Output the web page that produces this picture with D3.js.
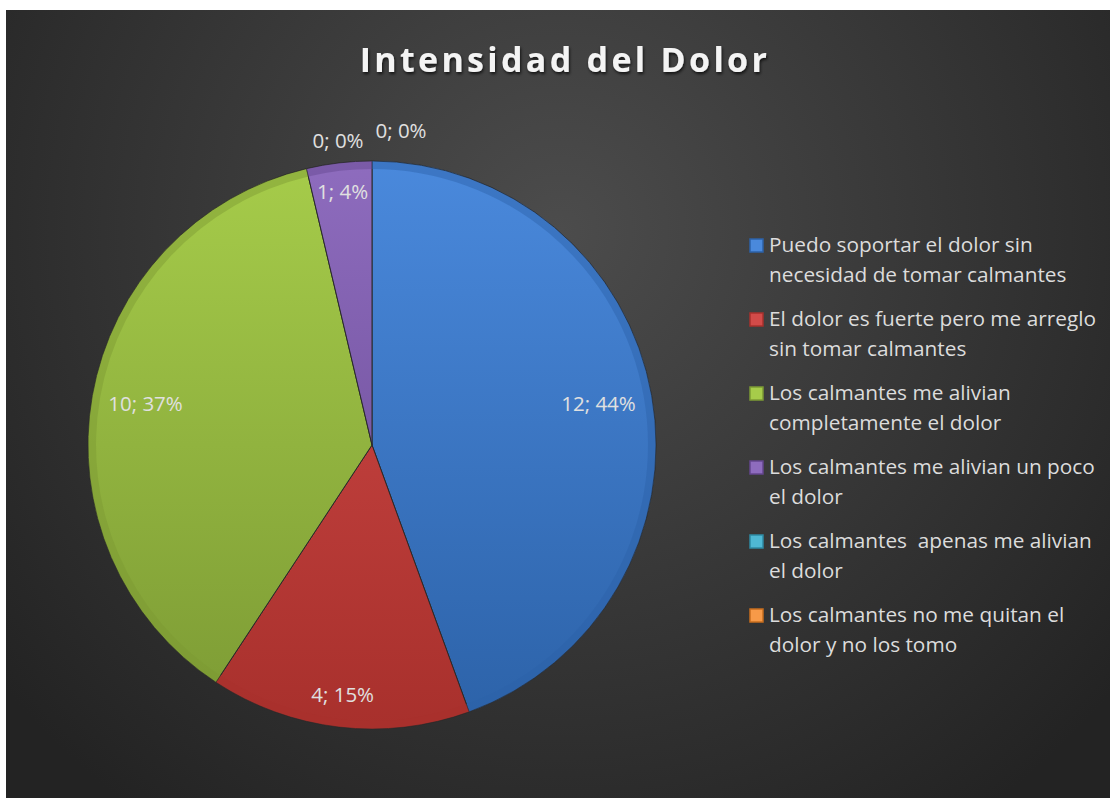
<!DOCTYPE html>
<html>
<head>
<meta charset="utf-8">
<script src="https://cdn.jsdelivr.net/npm/d3@7"></script>
<style>
  body { margin: 0; background: #fff; }
  svg { display: block; }
</style>
</head>
<body>
<div id="chart"></div>
<script>
const width = 1110;
const height = 798;

// data
const categories = [
    "Puedo soportar el dolor sin necesidad de tomar calmantes",
    "El dolor es fuerte pero me arreglo sin tomar calmantes",
    "Los calmantes me alivian completamente el dolor",
    "Los calmantes me alivian un poco el dolor",
    "Los calmantes  apenas me alivian el dolor",
    "Los calmantes no me quitan el dolor y no los tomo"
];
const values = [12, 4, 10, 1, 0, 0];
const legendLines = [
    ["Puedo soportar el dolor sin", "necesidad de tomar calmantes"],
    ["El dolor es fuerte pero me arreglo", "sin tomar calmantes"],
    ["Los calmantes me alivian", "completamente el dolor"],
    ["Los calmantes me alivian un poco", "el dolor"],
    ["Los calmantes  apenas me alivian", "el dolor"],
    ["Los calmantes no me quitan el", "dolor y no los tomo"]
];
const colors = [
    ["#4a89dc", "#2c62a8"],
    ["#d24b49", "#a8302c"],
    ["#a6cc4a", "#7c9a34"],
    ["#8e6cbe", "#64468e"],
    ["#4fb8d4", "#2e8aa4"],
    ["#f79a48", "#c86e1e"]
];

const svg = d3.select("#chart")
    .append("svg")
    .attr("width", width)
    .attr("height", height)
    .style("font-family", "'Open Sans', sans-serif");

const defs = svg.append("defs");

// fond
const bg = defs.append("radialGradient")
    .attr("id", "bg")
    .attr("gradientUnits", "userSpaceOnUse")
    .attr("cx", 560).attr("cy", 230).attr("r", 720);
bg.append("stop").attr("offset", "0%").attr("stop-color", "#4c4c4c");
bg.append("stop").attr("offset", "100%").attr("stop-color", "#232323");

svg.append("rect")
    .attr("x", 6).attr("y", 10)
    .attr("width", width - 6).attr("height", height - 10)
    .attr("fill", "url(#bg)");

// titre
const shadow = defs.append("filter").attr("id", "shadow");
shadow.append("feDropShadow")
    .attr("dx", 1).attr("dy", 2).attr("stdDeviation", 1.5)
    .attr("flood-color", "#000").attr("flood-opacity", 0.7);

svg.append("text")
    .attr("x", 565).attr("y", 72)
    .attr("text-anchor", "middle")
    .attr("fill", "#f4f4f4")
    .style("font-size", "34px")
    .style("font-weight", "bold")
    .style("letter-spacing", "3.3px")
    .attr("filter", "url(#shadow)")
    .text("Intensidad del Dolor");

// camembert
const cx = 372, cy = 445, radius = 284;

const pie = d3.pie().sort(null).value(d => d);
const arcs = pie(values);
const arc = d3.arc().innerRadius(0).outerRadius(radius);
const bevel = d3.arc().innerRadius(radius - 8).outerRadius(radius);

colors.forEach((c, i) => {
    const g = defs.append("linearGradient")
        .attr("id", "slice" + i)
        .attr("gradientUnits", "userSpaceOnUse")
        .attr("x1", 0).attr("y1", -radius)
        .attr("x2", 0).attr("y2", radius);
    g.append("stop").attr("offset", "0%").attr("stop-color", c[0]);
    g.append("stop").attr("offset", "100%").attr("stop-color", c[1]);
});

const g = svg.append("g").attr("transform", `translate(${cx},${cy})`);

g.selectAll("path.slice")
    .data(arcs.filter(d => d.value > 0))
    .enter()
    .append("path")
    .attr("class", "slice")
    .attr("d", arc)
    .attr("fill", d => `url(#slice${d.index})`)
    .attr("stroke", "#2a2a2a")
    .attr("stroke-width", 1);

// petit biseau
g.selectAll("path.bevel")
    .data(arcs.filter(d => d.value > 0))
    .enter()
    .append("path")
    .attr("class", "bevel")
    .attr("d", bevel)
    .attr("fill", d => colors[d.index][1])
    .attr("opacity", 0.45);

const total = d3.sum(values);

g.selectAll("text.lbl")
    .data(arcs)
    .enter()
    .append("text")
    .attr("class", "lbl")
    .attr("text-anchor", "middle")
    .attr("dominant-baseline", "middle")
    .attr("fill", "#e0e0e0")
    .style("font-size", "20.5px")
    .attr("transform", (d, i) => {
        if (d.value > 0) {
            // les petites parts ont leur étiquette plus au bord
            const r = (d.endAngle - d.startAngle) < 1.2 ? 253 : 230;
            const [x, y] = d3.arc().innerRadius(r).outerRadius(r).centroid(d);
            return `translate(${x},${y})`;
        }
        // étiquettes des zéros, hors du disque
        const shift = i === 4 ? -34 : 29;
        const lift = i === 4 ? 302 : 312;
        return `translate(${shift},${-lift})`;
    })
    .text(d => `${d.value}; ${Math.round(d.value / total * 100)}%`);

// légende
const legend = svg.append("g")
    .attr("transform", "translate(750,245)");

const item = legend.selectAll("g")
    .data(categories)
    .enter()
    .append("g")
    .attr("transform", (d, i) => `translate(0,${i * 74})`);

item.append("rect")
    .attr("x", 0).attr("y", -6)
    .attr("width", 13).attr("height", 13)
    .attr("fill", (d, i) => colors[i][0])
    .attr("stroke", (d, i) => colors[i][1])
    .attr("stroke-width", 1.5);

item.append("text")
    .attr("fill", "#dcdcdc")
    .style("font-size", "20.8px")
    .each(function(d, i) {
        const t = d3.select(this);
        legendLines[i].forEach((line, k) => {
            t.append("tspan")
                .attr("x", 19)
                .attr("y", 7 + k * 30)
                .style("white-space", "pre")
                .text(line);
        });
    });
</script>
</body>
</html>
